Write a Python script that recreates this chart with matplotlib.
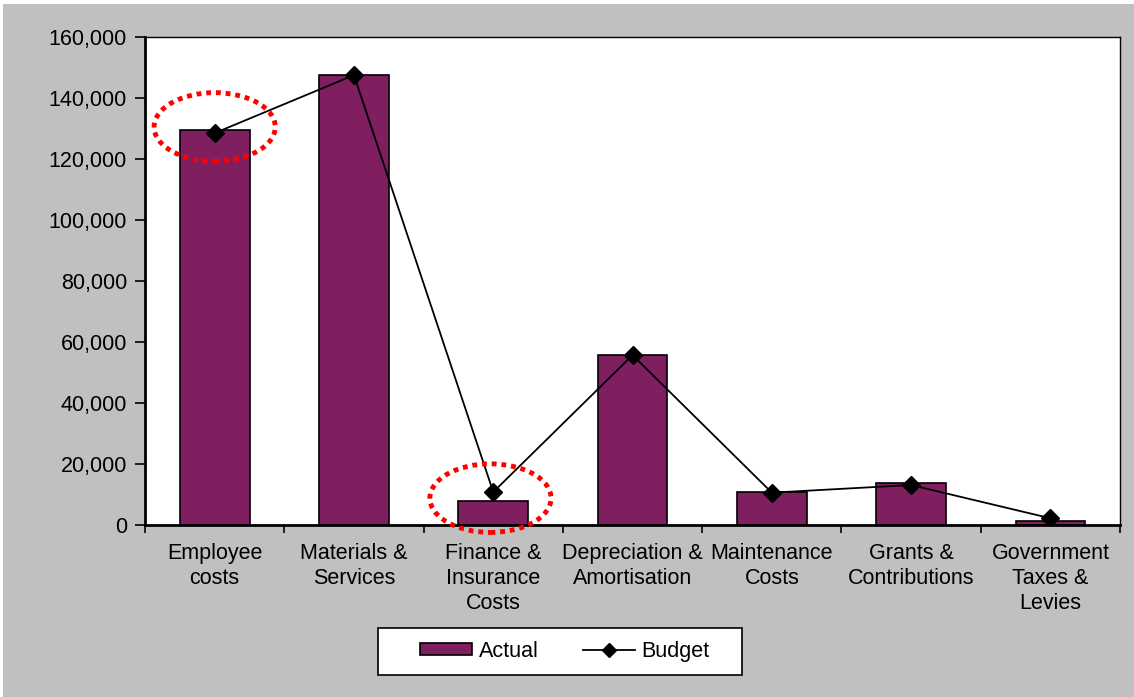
import matplotlib.pyplot as plt
import numpy as np
from matplotlib.patches import Ellipse, Rectangle
from matplotlib.ticker import FuncFormatter, MultipleLocator

plt.rcParams['font.family'] = ['Liberation Sans', 'DejaVu Sans']

# Data
categories = ["Employee\ncosts", "Materials &\nServices", "Finance &\nInsurance\nCosts",
              "Depreciation &\nAmortisation", "Maintenance\nCosts", "Grants &\nContributions",
              "Government\nTaxes &\nLevies"]
actual = [129500, 147500, 8000, 55700, 10700, 13900, 1400]
budget = [128500, 147500, 10800, 55700, 10600, 13100, 2200]

x = np.arange(len(categories))
fs = 15.5

fig = plt.figure(figsize=(11.34, 6.97), dpi=100)
fig.patch.set_facecolor("white")
fig.add_artist(Rectangle((0.003, 0.0), 0.997, 0.994, transform=fig.transFigure,
                         facecolor="#c0c0c0", edgecolor="none", zorder=-10))

ax = fig.add_axes([0.1279, 0.2468, 0.8598, 0.7001])
ax.set_facecolor("white")

bars = ax.bar(x, actual, 0.5, color="#7f1f5f", edgecolor="black", linewidth=1.2, zorder=2)
line, = ax.plot(x, budget, color="black", linewidth=1.3, marker="D", markersize=9, zorder=3)

# highlight ellipses around Employee costs and Finance & Insurance
for cx, cy in [(0, 130500), (1.98, 8800)]:
    ax.add_patch(Ellipse((cx, cy), 0.87, 22500, fill=False, edgecolor="red",
                         linestyle=(0, (1, 1)), linewidth=3.5, zorder=4, clip_on=False))

ax.set_xlim(-0.5, 6.5)
ax.set_ylim(0, 160000)
ax.yaxis.set_major_locator(MultipleLocator(20000))
ax.yaxis.set_major_formatter(FuncFormatter(lambda v, p: f"{int(v):,}"))
ax.set_xticks(x)
ax.set_xticklabels(categories, fontsize=fs, linespacing=1.25)
ax.set_xticks(np.arange(-0.5, 7, 1), minor=True)
ax.tick_params(axis="x", which="major", length=0, pad=13)
ax.tick_params(axis="x", which="minor", length=6, width=1.2, direction="out")
ax.tick_params(axis="y", labelsize=fs, length=7, width=1.2, direction="out", pad=6)

for side in ["top", "right"]:
    ax.spines[side].set_linewidth(1.0)
for side in ["left", "bottom"]:
    ax.spines[side].set_linewidth(2.0)

# legend box drawn separately (Excel-style padding)
fig.add_artist(Rectangle((0.3333, 0.0316), 0.321, 0.0674, transform=fig.transFigure,
                         facecolor="white", edgecolor="black", linewidth=1.2, zorder=5))
leg = fig.legend([bars, line], ["Actual", "Budget"], loc="center", bbox_to_anchor=(0.4982, 0.0653),
                 ncol=2, fontsize=fs, frameon=False, handlelength=2.4, handletextpad=0.33,
                 columnspacing=2.05, borderpad=0, borderaxespad=0, handleheight=0.5)
leg.set_zorder(6)
leg.legend_handles[1].set_markersize(7)

plt.savefig("out.png", dpi=100, facecolor=fig.get_facecolor())
